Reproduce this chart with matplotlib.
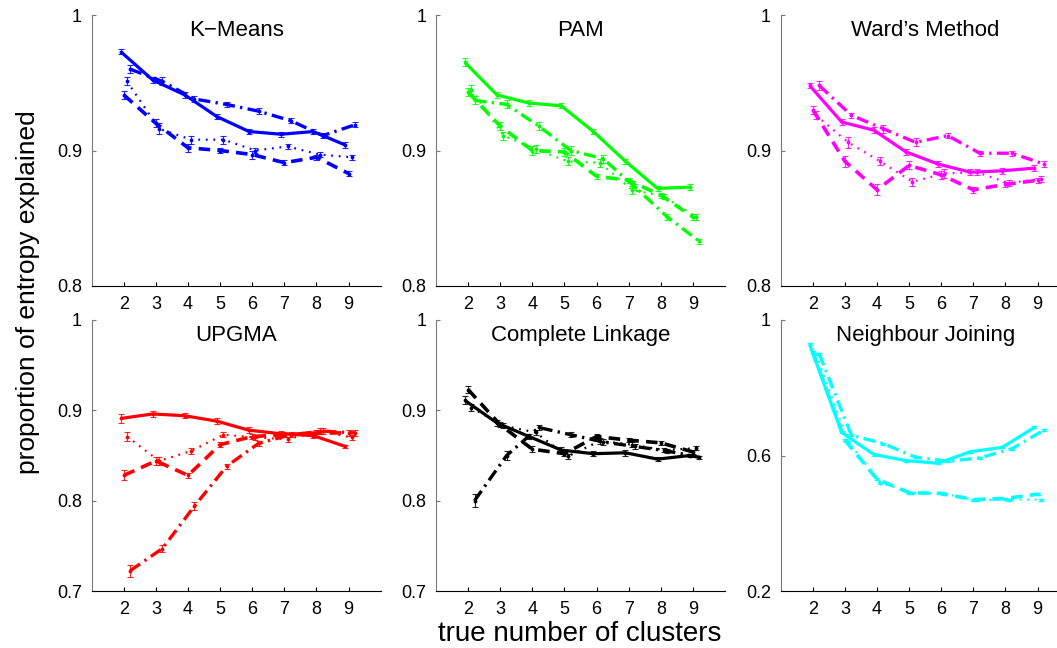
import numpy as np
import matplotlib.pyplot as plt

plt.rcParams['font.family'] = ['Liberation Sans', 'DejaVu Sans']

clusters = np.array([2, 3, 4, 5, 6, 7, 8, 9])
offsets = [-0.1, 0.0, 0.1, 0.2]

# order of rows: solid, dashed, dotted, dash-dot
kmeans = [[0.973, 0.952, 0.941, 0.925, 0.914, 0.912, 0.914, 0.904],
          [0.941, 0.920, 0.902, 0.900, 0.897, 0.891, 0.895, 0.883],
          [0.951, 0.916, 0.908, 0.908, 0.900, 0.903, 0.897, 0.895],
          [0.960, 0.951, 0.938, 0.934, 0.929, 0.922, 0.911, 0.919]]
kmeans_err = [[0.002, 0.002, 0.002, 0.002, 0.002, 0.002, 0.002, 0.002],
              [0.003, 0.003, 0.003, 0.002, 0.003, 0.002, 0.002, 0.002],
              [0.003, 0.004, 0.003, 0.003, 0.002, 0.002, 0.002, 0.002],
              [0.003, 0.003, 0.002, 0.002, 0.002, 0.002, 0.002, 0.002]]

pam = [[0.965, 0.941, 0.935, 0.933, 0.914, 0.892, 0.872, 0.873],
       [0.943, 0.918, 0.900, 0.899, 0.881, 0.878, 0.867, 0.851],
       [0.945, 0.911, 0.901, 0.892, 0.891, 0.871, 0.866, 0.851],
       [0.937, 0.934, 0.918, 0.900, 0.894, 0.873, 0.851, 0.833]]
pam_err = [[0.003, 0.002, 0.002, 0.002, 0.002, 0.002, 0.002, 0.002],
           [0.003, 0.003, 0.003, 0.003, 0.002, 0.002, 0.002, 0.002],
           [0.003, 0.003, 0.003, 0.003, 0.003, 0.003, 0.002, 0.002],
           [0.003, 0.003, 0.003, 0.003, 0.003, 0.002, 0.002, 0.002]]

ward = [[0.948, 0.921, 0.915, 0.899, 0.890, 0.884, 0.885, 0.887],
        [0.930, 0.892, 0.871, 0.889, 0.882, 0.871, 0.875, 0.878],
        [0.926, 0.906, 0.892, 0.877, 0.883, 0.884, 0.876, 0.879],
        [0.948, 0.926, 0.916, 0.906, 0.911, 0.898, 0.898, 0.890],]
ward_err = [[0.002, 0.002, 0.002, 0.002, 0.002, 0.002, 0.002, 0.002],
            [0.003, 0.004, 0.004, 0.003, 0.003, 0.002, 0.002, 0.002],
            [0.003, 0.004, 0.003, 0.003, 0.003, 0.002, 0.002, 0.002],
            [0.003, 0.002, 0.003, 0.003, 0.002, 0.002, 0.002, 0.002]]

upgma = [[0.891, 0.896, 0.894, 0.888, 0.878, 0.874, 0.872, 0.860],
         [0.828, 0.844, 0.828, 0.862, 0.871, 0.873, 0.875, 0.875],
         [0.871, 0.844, 0.855, 0.873, 0.870, 0.868, 0.877, 0.870],
         [0.7225, 0.747, 0.794, 0.838, 0.8635, 0.873, 0.877, 0.875]]
upgma_err = [[0.0046, 0.0035, 0.003, 0.003, 0.003, 0.003, 0.003, 0.002],
             [0.0055, 0.004, 0.003, 0.003, 0.003, 0.003, 0.003, 0.003],
             [0.0055, 0.004, 0.003, 0.003, 0.003, 0.003, 0.003, 0.003],
             [0.0067, 0.004, 0.004, 0.003, 0.003, 0.003, 0.003, 0.003]]

complete = [[0.911, 0.886, 0.871, 0.856, 0.852, 0.853, 0.846, 0.850],
            [0.923, 0.884, 0.857, 0.852, 0.871, 0.867, 0.864, 0.854],
            [0.903, 0.883, 0.8755, 0.849, 0.866, 0.862, 0.856, 0.858],
            [0.800, 0.850, 0.881, 0.873, 0.865, 0.860, 0.855, 0.848]]
complete_err = [[0.0045, 0.003, 0.003, 0.003, 0.003, 0.003, 0.002, 0.002],
                [0.004, 0.003, 0.003, 0.003, 0.003, 0.002, 0.002, 0.002],
                [0.004, 0.003, 0.003, 0.003, 0.003, 0.003, 0.002, 0.002],
                [0.0075, 0.0045, 0.003, 0.003, 0.003, 0.003, 0.002, 0.002]]

nj = [[0.928, 0.668, 0.603, 0.585, 0.577, 0.611, 0.624, 0.683],
      [0.905, 0.645, 0.530, 0.490, 0.488, 0.470, 0.473, 0.486],
      [0.900, 0.640, 0.520, 0.490, 0.487, 0.468, 0.470, 0.470],
      [0.900, 0.660, 0.635, 0.595, 0.583, 0.593, 0.620, 0.675]]
nj_err = [[0.003] * 8, [0.003] * 8, [0.003] * 8, [0.003] * 8]

titles = ['K\u2212Means', 'PAM', 'Ward\u2019s Method',
          'UPGMA', 'Complete Linkage', 'Neighbour Joining']
colors = ['#0000ff', '#00ff00', '#ff00ff', '#ff0000', '#000000', '#00ffff']
yticks = [[0.8, 0.9, 1], [0.8, 0.9, 1], [0.8, 0.9, 1],
          [0.7, 0.8, 0.9, 1], [0.7, 0.8, 0.9, 1], [0.2, 0.6, 1]]
panels = [(kmeans, kmeans_err), (pam, pam_err), (ward, ward_err),
          (upgma, upgma_err), (complete, complete_err), (nj, nj_err)]

styles = [dict(ls='-', lw=2.3),
          dict(ls=(0, (3.2, 2.0)), lw=2.6),
          dict(ls=(0, (0.8, 2.6)), lw=1.6),
          dict(ls=(0, (3.6, 1.6, 0.7, 1.6)), lw=2.4)]

W, H = 1057, 648
fig = plt.figure(figsize=(W / 100, H / 100), dpi=100)

lefts = [91.7, 436.0, 780.7]
tops = [15.0, 320.0]
aw, ah = 289.0, 271.0

for i, ((vals, errs), title, col, yt) in enumerate(zip(panels, titles, colors, yticks)):
    r, c = divmod(i, 3)
    ax = fig.add_axes([lefts[c] / W, (H - tops[r] - ah) / H, aw / W, ah / H])
    for s in range(4):
        xs = clusters + offsets[s]
        ax.errorbar(xs, vals[s], yerr=errs[s], fmt='none', ecolor=col,
                    elinewidth=0.8, capsize=2.2, capthick=0.8, alpha=0.85, zorder=2)
        ax.plot(xs, vals[s], color=col, solid_capstyle='butt',
                dash_capstyle='butt', zorder=3, **styles[s])
        ax.plot(xs, vals[s], '.', color=col, ms=3.5, zorder=4)
    ax.set_xlim(1, 10)
    ax.set_ylim(yt[0], yt[-1])
    ax.set_xticks(clusters)
    ax.set_yticks(yt, [f'{t:g}' for t in yt])
    for side in ['top', 'right']:
        ax.spines[side].set_visible(False)
    ax.spines['left'].set_color('#7a7a7a')
    ax.spines['bottom'].set_color('black')
    ax.tick_params(direction='in', length=3, width=0.8, labelsize=13, pad=7)
    ax.tick_params(axis='y', colors='#7a7a7a', labelcolor='black')
    ax.text(0.5, 1 - 21 / ah, title, transform=ax.transAxes, ha='center',
            va='baseline', fontsize=16)

fig.text(28 / W, (H - 292.5) / H, 'proportion of entropy explained',
         rotation=90, ha='center', va='center', fontsize=19)
fig.text(580 / W, (H - 641) / H, 'true number of clusters',
         ha='center', va='baseline', fontsize=20)

fig.savefig('out.png', dpi=100)
